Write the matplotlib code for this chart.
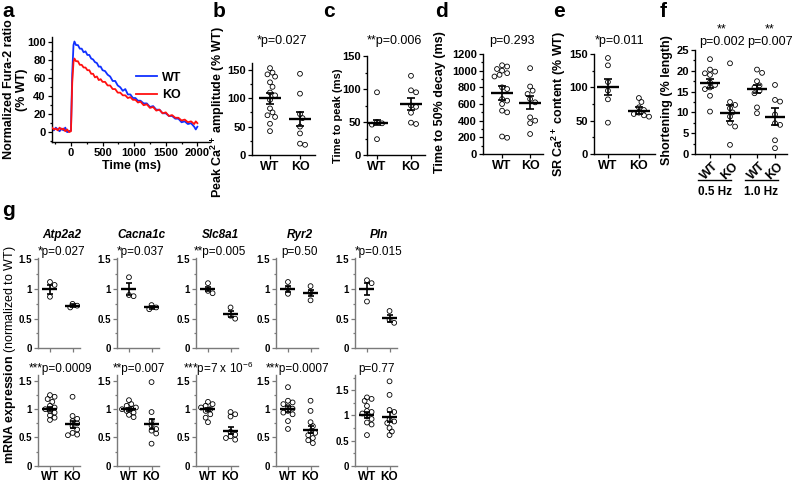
import matplotlib

matplotlib.use("Agg")
import matplotlib.pyplot as plt
import numpy as np
from matplotlib.ticker import MultipleLocator, FuncFormatter

plt.rcParams["font.family"] = ["Liberation Sans", "DejaVu Sans"]
plt.rcParams["mathtext.fontset"] = "custom"
plt.rcParams["mathtext.rm"] = "Liberation Sans"
plt.rcParams["mathtext.bf"] = "Liberation Sans:bold"
plt.rcParams["mathtext.it"] = "Liberation Sans:italic"

# ---- panel a: Fura-2 transients ----
trace_t = [-300, -270, -240, -210, -180, -150, -120, -90, -60, -30, 0, 20, 40, 55, 80,
           110, 140, 170, 200, 230, 260, 290, 320, 350, 380, 410, 440, 470, 500, 540,
           580, 620, 660, 700, 740, 780, 820, 860, 900, 940, 980, 1020, 1060, 1100,
           1150, 1200, 1250, 1300, 1350, 1400, 1450, 1500, 1550, 1600, 1650, 1700,
           1750, 1800, 1850, 1900, 1950, 1975, 2000]
wt_trace = [4, 2, 5, 3, 1, 4, 2, 5, 0, 1, 2, 65, 97, 101, 97,
            97, 93, 93, 89, 90, 86, 86, 82, 81, 78, 77, 73, 73, 69, 68,
            64, 62, 57, 57, 52, 50, 46, 48, 42, 42, 38, 38, 35, 35,
            32, 32, 28, 29, 25, 25, 21, 21, 18, 18, 15, 15,
            11, 12, 9, 10, 6, 3, 6]
ko_trace = [5, 3, 4, 2, 5, 3, 4, 1, 3, 0, 1, 55, 78, 82, 79,
            79, 75, 75, 72, 72, 69, 69, 65, 65, 61, 62, 58, 59, 56, 56,
            52, 52, 48, 48, 44, 44, 41, 41, 38, 39, 36, 36, 33, 34,
            30, 31, 27, 28, 24, 25, 21, 22, 18, 19, 16, 16,
            13, 14, 11, 12, 9, 12, 10]

groups = ["WT", "KO"]

# ---- panels b-e ----
peak_wt = [153, 145, 142, 138, 128, 120, 110, 105, 97, 82, 75, 70, 67, 55, 42]
peak_ko = [143, 108, 72, 65, 50, 38, 20, 18]
peak_mean = [100, 63]
peak_sem = [10, 12]

ttp_wt = [95, 50, 48, 46, 24]
ttp_ko = [120, 98, 95, 75, 73, 64, 49, 47]
ttp_mean = [49, 77]
ttp_sem = [4, 9]

decay_wt = [1065, 1050, 1020, 1000, 970, 950, 930, 800, 780, 660, 640, 600, 520, 500, 210, 195]
decay_ko = [1030, 810, 760, 720, 660, 620, 440, 400, 370, 240]
decay_mean = [732, 612]
decay_sem = [80, 78]

sr_wt = [144, 133, 108, 95, 82, 47]
sr_ko = [84, 78, 70, 66, 62, 60, 58, 56]
sr_mean = [100, 65]
sr_sem = [12, 5]

# ---- panel f ----
short_groups = ["WT", "KO", "WT", "KO"]
short_vals = [
    [22.8, 20.3, 19.8, 19.4, 19.0, 17.2, 16.6, 16.0, 15.6, 14.0, 10.2],
    [21.8, 12.5, 11.8, 11.0, 10.0, 9.0, 7.5, 6.6, 2.2],
    [20.3, 19.5, 17.5, 16.5, 16.0, 15.2, 14.6, 11.2, 9.8],
    [16.6, 13.0, 12.6, 9.5, 7.4, 7.0, 3.3, 1.4],
]
short_mean = [17.0, 9.9, 15.6, 9.0]
short_sem = [1.1, 1.9, 1.0, 2.0]
short_p = ["p=0.002", "p=0.007"]
short_freq = ["0.5 Hz", "1.0 Hz"]

# ---- panel g: mRNA ----
genes = ["Atp2a2", "Cacna1c", "Slc8a1", "Ryr2", "Pln"]
g1_wt = [[1.12, 1.07, 0.87], [1.2, 0.9, 0.88], [1.1, 0.97, 0.93], [1.12, 1.01, 0.92], [1.15, 1.1, 0.79]]
g1_ko = [[0.75, 0.72, 0.69], [0.73, 0.69, 0.66], [0.69, 0.55, 0.5], [1.05, 0.94, 0.81], [0.63, 0.48, 0.43]]
g1_mean = [[1.0, 0.72], [1.0, 0.69], [1.0, 0.58], [1.0, 0.93], [1.0, 0.51]]
g1_sem = [[0.075, 0.02], [0.1, 0.02], [0.04, 0.05], [0.05, 0.05], [0.1, 0.06]]
g1_p = ["*p=0.027", "*p=0.037", "**p=0.005", "p=0.50", "*p=0.015"]

g2_wt = [
    [1.25, 1.22, 1.18, 1.13, 1.06, 1.03, 1.0, 0.97, 0.94, 0.89, 0.85, 0.81],
    [1.16, 1.09, 1.06, 1.03, 1.01, 1.0, 0.97, 0.94, 0.9, 0.86],
    [1.13, 1.09, 1.06, 1.03, 1.0, 0.97, 0.91, 0.85, 0.77],
    [1.39, 1.15, 1.12, 1.09, 1.05, 1.01, 0.97, 0.94, 0.91, 0.79, 0.65],
    [1.36, 1.33, 1.29, 1.19, 1.09, 1.07, 1.04, 0.99, 0.93, 0.86, 0.82, 0.61],
]
g2_ko = [
    [1.22, 0.88, 0.83, 0.79, 0.75, 0.7, 0.64, 0.58, 0.55, 0.54],
    [1.48, 0.95, 0.79, 0.71, 0.65, 0.62, 0.57, 0.39],
    [0.95, 0.91, 0.87, 0.6, 0.55, 0.52, 0.49, 0.46],
    [1.15, 0.97, 0.77, 0.7, 0.61, 0.58, 0.54, 0.49, 0.45, 0.4],
    [1.68, 1.41, 1.11, 1.07, 0.92, 0.88, 0.85, 0.75, 0.68, 0.61],
]
g2_mean = [[1.0, 0.73], [1.0, 0.74], [1.0, 0.62], [1.0, 0.64], [1.0, 0.97]]
g2_sem = [[0.04, 0.06], [0.025, 0.09], [0.03, 0.06], [0.05, 0.07], [0.06, 0.1]]
g2_p = ["***p=0.0009", "**p=0.007", "***p=7 x 10$^{-6}$", "***p=0.0007", "p=0.77"]

W, H = 794, 482
fig = plt.figure(figsize=(W / 100, H / 100), dpi=100)


def rect(l, t, r, b):
    return [l / W, 1 - b / H, (r - l) / W, (b - t) / H]


def ftext(x, y, s, **kw):
    kw.setdefault("ha", "center")
    kw.setdefault("va", "center")
    fig.text(x / W, 1 - y / H, s, **kw)


def scales(ax):
    bb = ax.get_position()
    x0, x1 = ax.get_xlim()
    y0, y1 = ax.get_ylim()
    return bb.width * W / (x1 - x0), bb.height * H / (y1 - y0)


def swarm(ax, vals, x0, d=4.6):
    # simple deterministic beeswarm, in pixels
    sx, sy = scales(ax)
    placed = []
    out = []
    steps = [0]
    for i in range(1, 8):
        steps += [i * d * 0.55, -i * d * 0.55]
    for v in vals:
        y = v * sy
        for off in steps:
            if all(np.hypot(off - px, y - py) >= d for px, py in placed):
                break
        placed.append((off, y))
        out.append(x0 + off / sx)
    return out


def style(ax, color="black"):
    for s in ["top", "right"]:
        ax.spines[s].set_visible(False)
    for s in ["left", "bottom"]:
        ax.spines[s].set_color(color)
        ax.spines[s].set_linewidth(1.0)
    ax.tick_params(which="both", direction="out", color=color, width=0.9)
    ax.tick_params(which="major", length=3, pad=1.5)
    ax.tick_params(which="minor", length=1.6)
    for lab in ax.get_yticklabels():
        lab.set_fontweight("bold")


def dots(ax, data, means, sems, xs, half_px=11, cap=3, d=4.6):
    sx, sy = scales(ax)
    for vals, m, s, x in zip(data, means, sems, xs):
        ax.scatter(swarm(ax, vals, x, d), vals, s=12, facecolors="none",
                   edgecolors="black", linewidths=0.6, zorder=2, clip_on=False)
        ax.plot([x - half_px / sx, x + half_px / sx], [m, m], color="black",
                lw=1.7, zorder=3, solid_capstyle="butt")
        ax.errorbar(x, m, yerr=s, color="black", lw=1.2, capsize=cap,
                    capthick=1.2, zorder=3)


# ---------------- panel a ----------------
ax = fig.add_axes(rect(52, 37, 210, 142))
ax.plot(trace_t, wt_trace, color="#1030ff", lw=1.3, label="WT", zorder=2)
ax.plot(trace_t, ko_trace, color="#ff1010", lw=1.3, label="KO", zorder=3)
ax.set_xlim(-300, 2200)
ax.set_ylim(-11, 106)
ax.set_xticks([0, 500, 1000, 1500, 2000])
ax.xaxis.set_minor_locator(MultipleLocator(250))
ax.set_yticks(range(0, 101, 20))
ax.yaxis.set_minor_locator(MultipleLocator(10))
style(ax)
for lab in ax.get_xticklabels():
    lab.set_fontweight("bold")
ax.tick_params(labelsize=8)
ax.set_xlabel("Time (ms)", fontsize=9, fontweight="bold", labelpad=1)
ax.set_ylabel("Normalized Fura-2 ratio\n(% WT)", fontsize=9, fontweight="bold",
              linespacing=1.1)
ax.yaxis.set_label_coords(-0.15, 0.5)
ax.legend(frameon=False, loc="upper left", bbox_to_anchor=(0.53, 0.67),
          borderaxespad=0, borderpad=0, handlelength=1.7, handletextpad=0.4,
          labelspacing=0.45, prop={"weight": "bold", "size": 9})

# ---------------- panels b-e ----------------
top_specs = [
    (rect(252, 63, 315, 155), [peak_wt, peak_ko], peak_mean, peak_sem,
     (0, 162), (-0.6, 1.5), 50, 25, "Peak Ca$^\\mathbf{2+}$ amplitude (% WT)",
     (-0.40, 0.47), 9, 282, "*p=0.027"),
    (rect(367, 56, 425, 155), [ttp_wt, ttp_ko], ttp_mean, ttp_sem,
     (0, 150), (-0.294, 1.412), 50, 25, "Time to peak (ms)",
     (-0.42, 0.40), 8, 394, "**p=0.006"),
    (rect(483, 54, 543, 154), [decay_wt, decay_ko], decay_mean, decay_sem,
     (0, 1200), (-0.68, 1.46), 200, 100, "Time to 50% decay (ms)",
     (-0.62, 0.52), 9, 512, "p=0.293"),
    (rect(594, 54, 655, 154), [sr_wt, sr_ko], sr_mean, sr_sem,
     (0, 150), (-0.45, 1.52), 50, 25, "SR Ca$^\\mathbf{2+}$ content (% WT)",
     (-0.43, 0.5), 9, 620, "*p=0.011"),
]
for box, data, means, sems, ylim, xlim, major, minor, ylab, lc, lfs, px, ptxt in top_specs:
    ax = fig.add_axes(box)
    ax.set_xlim(*xlim)
    ax.set_ylim(*ylim)
    ax.yaxis.set_major_locator(MultipleLocator(major))
    ax.yaxis.set_minor_locator(MultipleLocator(minor))
    ax.set_xticks([0, 1])
    ax.set_xticklabels(groups, fontweight="bold", fontsize=9)
    style(ax)
    ax.tick_params(axis="y", labelsize=8)
    dots(ax, data, means, sems, [0, 1])
    ax.set_ylabel(ylab, fontsize=lfs, fontweight="bold")
    ax.yaxis.set_label_coords(*lc)
    ftext(px, 41, ptxt, fontsize=9)

# ---------------- panel f ----------------
ax = fig.add_axes(rect(695, 50, 787, 154))
fx = [0, 1, 2.35, 3.25]
ax.set_xlim(-0.75, 3.85)
ax.set_ylim(0, 25)
ax.yaxis.set_major_locator(MultipleLocator(5))
ax.yaxis.set_minor_locator(MultipleLocator(2.5))
ax.set_xticks(fx)
ax.set_xticklabels(short_groups, fontweight="bold", fontsize=9, rotation=45)
style(ax)
ax.tick_params(axis="y", labelsize=8)
dots(ax, short_vals, short_mean, short_sem, fx, half_px=10)
ax.set_ylabel("Shortening (% length)", fontsize=9, fontweight="bold")
ax.yaxis.set_label_coords(-0.24, 0.52)
tr = ax.get_xaxis_transform()
for (a, b), lab in zip([(-0.6, 1.05), (1.75, 3.4)], short_freq):
    ax.plot([a, b], [-0.25, -0.25], color="black", lw=1.0, transform=tr, clip_on=False)
    ax.text((a + b) / 2, -0.37, lab, transform=tr, ha="center", va="center",
            fontsize=8.5, fontweight="bold")
for xc, ptxt in zip([722, 770], short_p):
    ftext(xc, 42, ptxt, fontsize=9)
    ftext(xc, 29, "**", fontsize=9)

# ---------------- panel g ----------------
gx = [38, 117, 196, 276, 355]
for i, gene in enumerate(genes):
    l = gx[i]
    for row in range(2):
        if row == 0:
            box = rect(l, 258.3, l + 42, 348.3)
            ylim = (0, 1.52)
            data = [g1_wt[i], g1_ko[i]]
            means, sems = g1_mean[i], g1_sem[i]
        else:
            box = rect(l, 375.3, l + 42, 465.7)
            ylim = (0, 1.8) if i == 4 else (0, 1.6)
            data = [g2_wt[i], g2_ko[i]]
            means, sems = g2_mean[i], g2_sem[i]
        ax = fig.add_axes(box)
        ax.set_xlim(-0.53, 1.33)
        ax.set_ylim(*ylim)
        ax.set_yticks([0, 0.5, 1, 1.5])
        ax.yaxis.set_major_formatter(FuncFormatter(lambda v, p: "%g" % v))
        ax.yaxis.set_minor_locator(MultipleLocator(0.25))
        ax.set_xticks([0, 1])
        if row == 1:
            ax.set_xticklabels(groups, fontweight="bold", fontsize=8.5)
        else:
            ax.set_xticklabels([])
        style(ax, color="#7a7a7a")
        ax.tick_params(axis="y", labelsize=7)
        ax.tick_params(axis="x", pad=0.5)
        dots(ax, data, means, sems, [0, 1], half_px=7.5, cap=2.2, d=4.2)
    xc = l + 24
    ftext(xc, 235, gene, fontsize=8.5, fontweight="bold", fontstyle="italic")
    ftext(xc, 252, g1_p[i], fontsize=8.5)
    ftext(xc - 2, 369, g2_p[i], fontsize=8.5)

ftext(10.5, 355, r"$\mathbf{mRNA\ expression}$ (normalized to WT)", fontsize=9,
      rotation=90)

# panel letters
for x, y, s in [(2, 17, "a"), (213, 17, "b"), (323, 17, "c"), (435, 17, "d"),
                (553, 17, "e"), (660, 17, "f"), (2, 216, "g")]:
    fig.text(x / W, 1 - y / H, s, fontsize=15, fontweight="bold", ha="left",
             va="baseline")

fig.savefig("out.png", dpi=100)
